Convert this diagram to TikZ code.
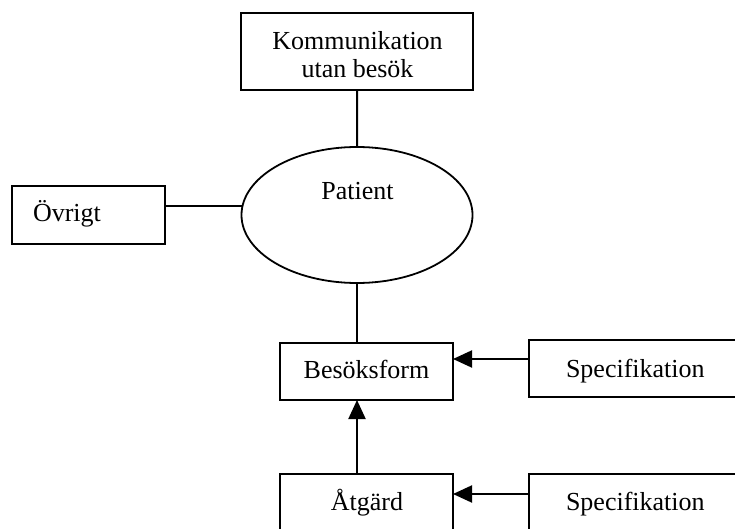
\documentclass[tikz,border=0pt]{standalone}
\usepackage{fontspec}
\setmainfont{Liberation Serif}
\usetikzlibrary{arrows.meta,shapes.geometric,calc}
\tikzset{
  every node/.style={outer sep=0pt},
  box/.style={draw, line width=1.8bp, rectangle, inner sep=0pt, anchor=north west},
  lbl/.style={font=\fontsize{26bp}{30bp}\selectfont, inner sep=0pt, anchor=base},
  conn/.style={line width=2bp},
  arr/.style={line width=2bp, -{Triangle[length=19bp,width=17bp]}}
}
\begin{document}
\begin{tikzpicture}[x=1bp,y=-1bp]
\useasboundingbox (0,0) rectangle (735,529);
\clip (0,0) rectangle (735,529);
% boxes
\node[box, minimum width=232bp, minimum height=77bp] (komm) at (241,13) {};
\node[draw, line width=1.8bp, ellipse, minimum width=231bp, minimum height=136bp, inner sep=0pt] (pat) at (357,215) {};
\node[box, minimum width=153bp, minimum height=58bp] (ovr) at (12,186) {};
\node[box, minimum width=173bp, minimum height=57bp] (besok) at (280,343) {};
\node[box, minimum width=260bp, minimum height=57bp] (spec1) at (529,340) {};
\node[box, minimum width=173bp, minimum height=90bp] (atg) at (280,474) {};
\node[box, minimum width=260bp, minimum height=90bp] (spec2) at (529,474) {};
% labels
\node[lbl] (t1) at (357.5,50) {Kommunikation};
\node[lbl] (t2) at (357.5,78) {utan besök};
\node[lbl] (t3) at (357.5,200) {Patient};
\node[lbl, anchor=base west] (t4) at (33,222) {Övrigt};
\node[lbl] (t5) at (366.5,378) {Besöksform};
\node[lbl, anchor=base west] (t6) at (566,377) {Specifikation};
\node[lbl] (t7) at (367,510) {Åtgärd};
\node[lbl, anchor=base west] (t8) at (566,510) {Specifikation};
% connectors
\draw[conn] (komm.south) -- (pat.north);
\coordinate (o1) at ([yshift=9bp]ovr.east);
\draw[conn] (o1) -- ($(o1 -| pat.west)+(1,0)$);
\draw[conn] (pat.south) -- (pat.south |- besok.north);
\draw[arr] (pat.south |- atg.north) -- (pat.south |- besok.south);
\coordinate (s1) at ([yshift=9.5bp]spec1.west);
\draw[arr] (s1) -- (s1 -| besok.east);
\coordinate (s2) at ([yshift=-20bp]spec2.north west);
\draw[arr] (s2) -- (s2 -| atg.east);
\end{tikzpicture}
\end{document}
